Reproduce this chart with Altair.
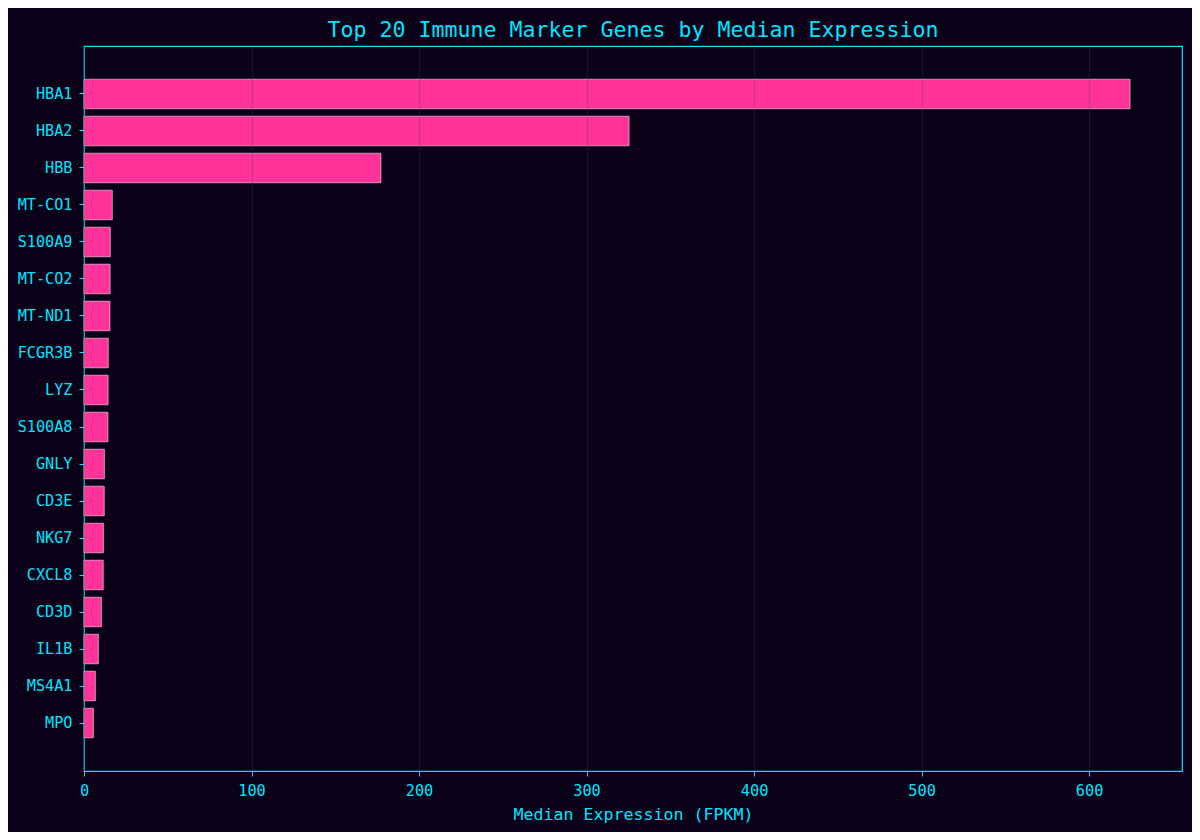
import altair as alt
import pandas as pd

genes = ["HBA1", "HBA2", "HBB", "MT-CO1", "S100A9", "MT-CO2", "MT-ND1", "FCGR3B",
         "LYZ", "S100A8", "GNLY", "CD3E", "NKG7", "CXCL8", "CD3D", "IL1B", "MS4A1", "MPO"]
values = [624.5, 325.4, 177.3, 16.9, 15.7, 15.6, 15.5, 14.5,
          14.4, 14.3, 12.2, 12.1, 11.6, 11.5, 10.4, 8.6, 6.8, 5.6]

df = pd.DataFrame({"gene": genes, "value": values})

BG = "#0a0017"
CYAN = "#00e5ff"
PINK = "#ff3399"
FONT = "DejaVu Sans Mono"

chart = alt.Chart(df).mark_bar(
    color=PINK, stroke="#ffffff", strokeOpacity=0.5, strokeWidth=1
).encode(
    x=alt.X("value:Q", title="Median Expression (FPKM)",
            scale=alt.Scale(domain=[0, 655.5], nice=False, zero=True),
            axis=alt.Axis(values=[0, 100, 200, 300, 400, 500, 600], format="d",
                          grid=True, gridColor="#444444", gridOpacity=0.3, gridWidth=1,
                          zindex=1, domain=False, tickColor=CYAN, tickSize=5,
                          labelFlush=False, labelOverlap=False,
                          labelPadding=7, labelColor=CYAN, labelFontSize=15.3,
                          labelFont=FONT, titleFont=FONT, titleFontSize=16.6,
                          titleFontWeight="normal", titleColor=CYAN, titlePadding=8)),
    y=alt.Y("gene:N", sort=genes, title=None,
            scale=alt.Scale(paddingInner=0.2, paddingOuter=0.897),
            axis=alt.Axis(grid=False, domain=False, tickColor=CYAN, tickSize=5,
                          labelPadding=7, labelColor=CYAN, labelFontSize=15.2,
                          labelFont=FONT)),
).properties(
    width=1098, height=725,
    title=alt.TitleParams("Top 20 Immune Marker Genes by Median Expression",
                          font=FONT, fontSize=21.6, fontWeight="normal",
                          color=CYAN, anchor="middle", offset=4),
    background=BG,
    padding={"left": 76, "top": 38, "right": 10, "bottom": 61},
    autosize=alt.AutoSizeParams(type="none"),
).configure_view(
    stroke=CYAN, strokeWidth=1.2, fill=BG
)

chart.save("out.html", embed_options={"renderer": "svg", "actions": False})
